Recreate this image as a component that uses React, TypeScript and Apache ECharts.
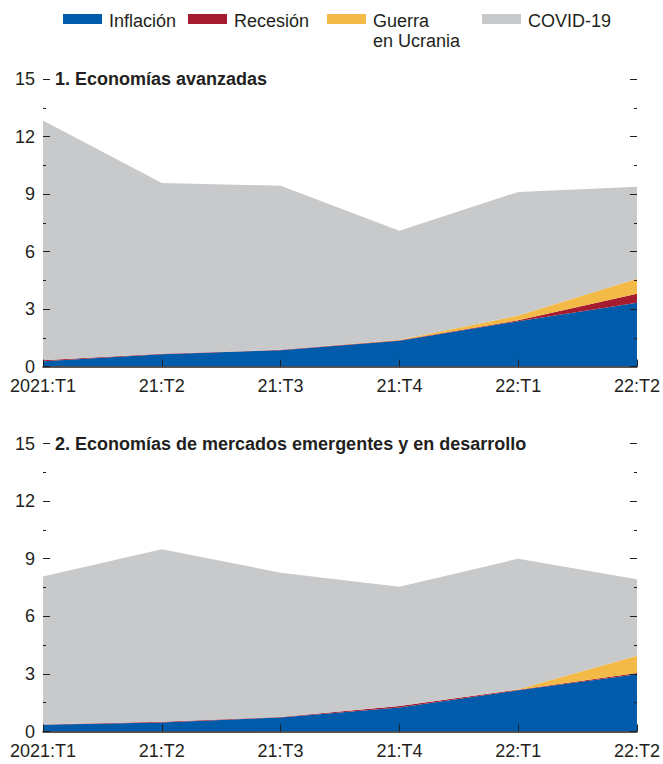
import React, { useEffect, useRef } from "react";
import * as echarts from "echarts";

const quarters = ["2021:T1", "21:T2", "21:T3", "21:T4", "22:T1", "22:T2"];

// Panel 1: Economías avanzadas
const advInflation = [0.28, 0.64, 0.85, 1.35, 2.36, 3.32];
const advRecession = [0.05, 0.02, 0.02, 0.02, 0.05, 0.47];
const advUkraine = [0, 0, 0, 0.03, 0.25, 0.79];
const advCovid = [12.5, 8.92, 8.56, 5.68, 6.45, 4.8];

// Panel 2: Economías de mercados emergentes y en desarrollo
const emInflation = [0.35, 0.47, 0.73, 1.25, 2.15, 2.98];
const emRecession = [0.02, 0.04, 0.03, 0.08, 0.03, 0.07];
const emUkraine = [0, 0, 0, 0, 0.02, 0.9];
const emCovid = [7.7, 8.98, 7.51, 6.21, 6.8, 3.98];

const seriesNames = ["Inflación", "Recesión", "Guerra en Ucrania", "COVID-19"];
const legendLabels = ["Inflación", "Recesión", "Guerra\nen Ucrania", "COVID-19"];
const panelTitles = [
  "1. Economías avanzadas",
  "2. Economías de mercados emergentes y en desarrollo",
];
const yMin = 0;
const yMax = 15;
const yInterval = 3;

const COLORS = ["#005BAA", "#A51C30", "#F4BA48", "#C8C9CB"];
const FONT = "'Liberation Sans', Arial, sans-serif";
const TXT = "#231F20";
const FS = 18;

export default function App() {
  const ref = useRef<HTMLDivElement>(null);

  useEffect(() => {
    if (!ref.current) return;
    const chart = echarts.init(ref.current, undefined, { renderer: "svg" });

    const grids = [
      { left: 43, right: 26, top: 79, height: 287.5 },
      { left: 43, right: 26, top: 443.5, height: 288 },
    ];

    const xAxes = grids.map((_, i) => ({
      type: "category",
      gridIndex: i,
      data: quarters,
      boundaryGap: false,
      z: 10,
      axisLine: { show: true, lineStyle: { color: TXT, width: 1.5 } },
      axisTick: { show: true, inside: true, length: 7, lineStyle: { color: TXT, width: 1 } },
      axisLabel: {
        color: TXT,
        fontFamily: FONT,
        fontSize: FS,
        lineHeight: 16,
        margin: 11,
        showMinLabel: true,
        showMaxLabel: true,
        interval: 0,
      },
    }));

    const yAxes: any[] = [];
    grids.forEach((_, i) => {
      ["left", "right"].forEach((pos) => {
        yAxes.push({
          type: "value",
          gridIndex: i,
          position: pos,
          min: yMin,
          max: yMax,
          interval: yInterval,
          z: 10,
          axisLine: { show: false },
          splitLine: { show: false },
          axisTick: { show: true, inside: true, length: 7, lineStyle: { color: TXT, width: 1 } },
          minorTick: { show: true, splitNumber: 2, length: 3, lineStyle: { color: TXT, width: 1 } },
          axisLabel: {
            show: pos === "left",
            color: TXT,
            fontFamily: FONT,
            fontSize: FS,
            lineHeight: 14,
            margin: 8,
          },
        });
      });
    });

    const panels = [
      [advInflation, advRecession, advUkraine, advCovid],
      [emInflation, emRecession, emUkraine, emCovid],
    ];

    const series: any[] = [];
    panels.forEach((arrs, p) => {
      arrs.forEach((data, k) => {
        series.push({
          name: seriesNames[k],
          type: "line",
          xAxisIndex: p,
          yAxisIndex: p * 2,
          stack: "panel" + p,
          data,
          symbol: "none",
          z: 2,
          lineStyle: { width: 0 },
          areaStyle: { color: COLORS[k], opacity: 1 },
          itemStyle: { color: COLORS[k] },
        });
      });
    });

    const legendX = [63, 188, 327, 482];
    const graphics: any[] = [];
    legendLabels.forEach((lab, k) => {
      graphics.push({
        type: "rect",
        left: legendX[k],
        top: 14,
        shape: { width: 39, height: 10 },
        style: { fill: COLORS[k] },
      });
      graphics.push({
        type: "text",
        x: legendX[k] + 46,
        y: 11,
        style: {
          text: lab,
          fill: TXT,
          fontFamily: FONT,
          fontSize: FS,
          lineHeight: 20,
          verticalAlign: "top",
          align: "left",
        },
      });
    });
    panelTitles.forEach((t, i) => {
      graphics.push({
        type: "text",
        x: 55,
        y: grids[i].top,
        z: 20,
        style: {
          text: t,
          fill: TXT,
          fontFamily: FONT,
          fontSize: FS,
          fontWeight: "bold",
          verticalAlign: "middle",
          align: "left",
        },
      });
    });

    chart.setOption({
      animation: false,
      backgroundColor: "#ffffff",
      textStyle: { fontFamily: FONT },
      grid: grids,
      xAxis: xAxes,
      yAxis: yAxes,
      series,
      graphic: graphics,
    });

    return () => chart.dispose();
  }, []);

  return (
    <div
      ref={ref}
      style={{ position: "absolute", left: 0, top: 0, width: 663, height: 764, background: "#fff" }}
    />
  );
}
